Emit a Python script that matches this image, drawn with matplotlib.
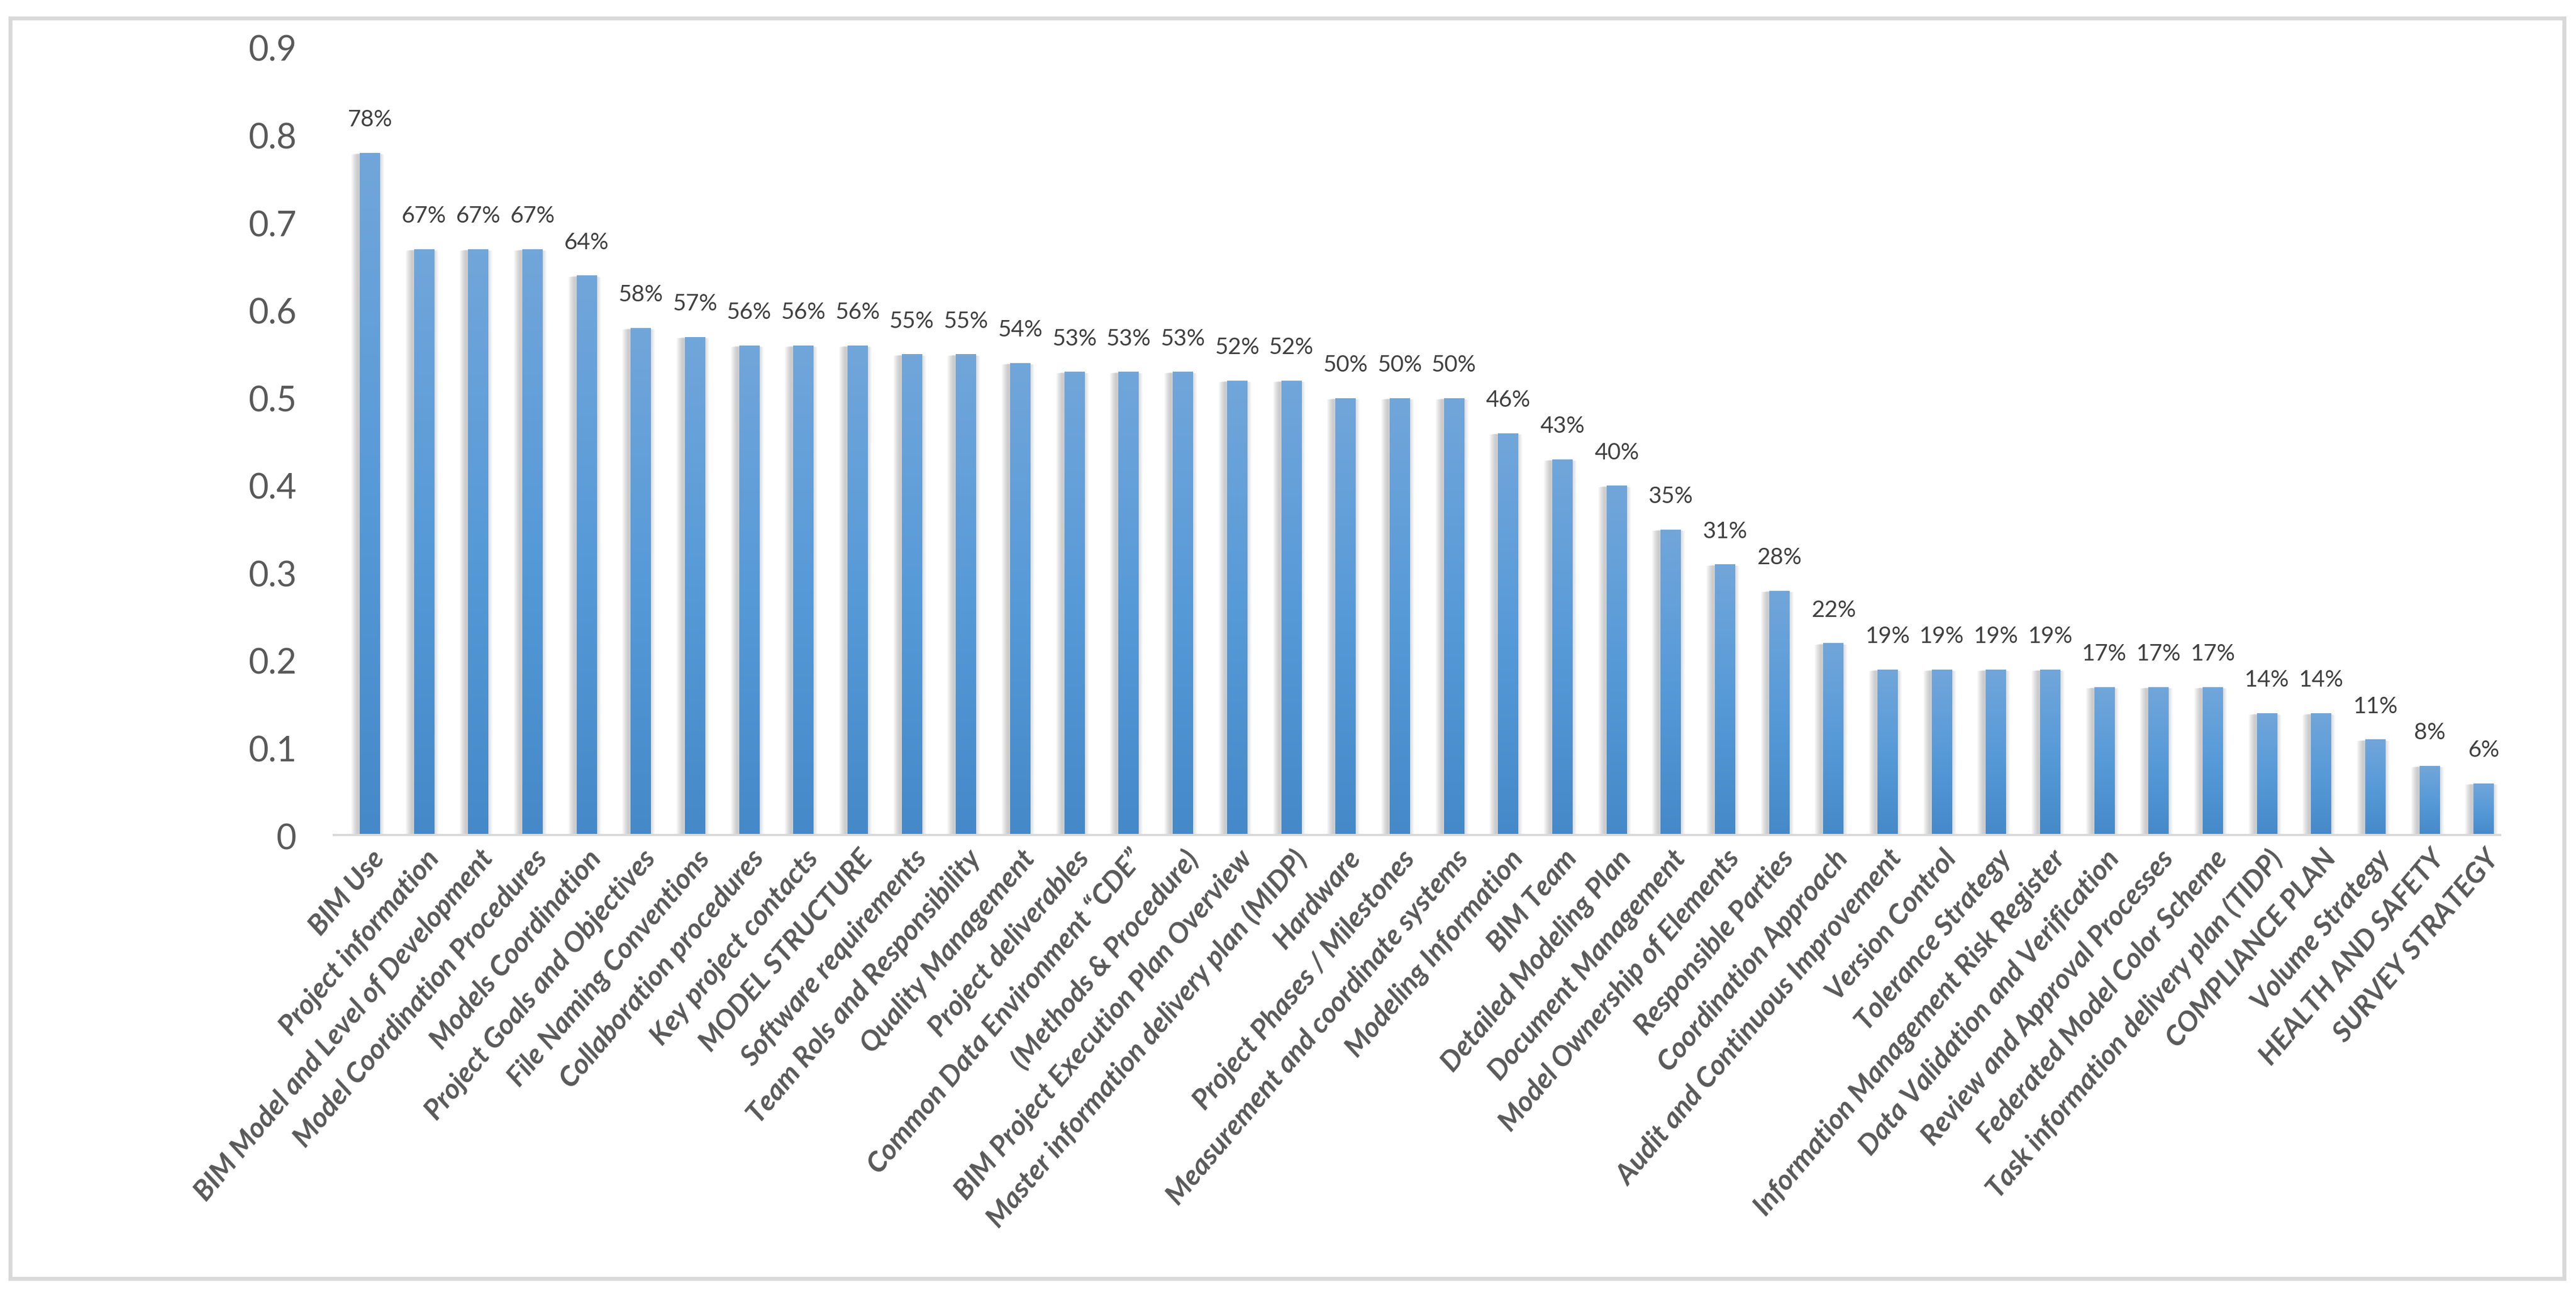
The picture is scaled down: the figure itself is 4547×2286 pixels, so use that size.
import numpy as np
import matplotlib.pyplot as plt
from matplotlib.patches import Rectangle
from matplotlib.colors import LinearSegmentedColormap

plt.rcParams['font.family'] = ['Lato', 'DejaVu Sans']

categories = [
    'BIM Use', 'Project information', 'BIM Model and Level of Development',
    'Model Coordination Procedures', 'Models Coordination', 'Project Goals and Objectives',
    'File Naming Conventions', 'Collaboration procedures', 'Key project contacts',
    'MODEL STRUCTURE', 'Software requirements', 'Team Rols and Responsibility',
    'Quality Management', 'Project deliverables', 'Common Data Environment \u201cCDE\u201d',
    '(Methods & Procedure)', 'BIM Project Execution Plan Overview',
    'Master information delivery plan (MIDP)', 'Hardware', 'Project Phases / Milestones',
    'Measurement and coordinate systems', 'Modeling Information', 'BIM Team',
    'Detailed Modeling Plan', 'Document Management', 'Model Ownership of Elements',
    'Responsible Parties', 'Coordination Approach', 'Audit and Continuous Improvement',
    'Version Control', 'Tolerance Strategy', 'Information Management Risk Register',
    'Data Validation and Verification', 'Review and Approval Processes',
    'Federated Model Color Scheme', 'Task information delivery plan (TIDP)',
    'COMPLIANCE PLAN', 'Volume Strategy', 'HEALTH AND SAFETY', 'SURVEY STRATEGY',
]

values = [0.78, 0.67, 0.67, 0.67, 0.64, 0.58, 0.57, 0.56, 0.56, 0.56,
          0.55, 0.55, 0.54, 0.53, 0.53, 0.53, 0.52, 0.52, 0.50, 0.50,
          0.50, 0.46, 0.43, 0.40, 0.35, 0.31, 0.28, 0.22, 0.19, 0.19,
          0.19, 0.19, 0.17, 0.17, 0.17, 0.14, 0.14, 0.11, 0.08, 0.06]

pct_labels = ['78%', '67%', '67%', '67%', '64%', '58%', '57%', '56%', '56%', '56%',
              '55%', '55%', '54%', '53%', '53%', '53%', '52%', '52%', '50%', '50%',
              '50%', '46%', '43%', '40%', '35%', '31%', '28%', '22%', '19%', '19%',
              '19%', '19%', '17%', '17%', '17%', '14%', '14%', '11%', '8%', '6%']

y_ticks = [0, 0.1, 0.2, 0.3, 0.4, 0.5, 0.6, 0.7, 0.8, 0.9]
y_tick_labels = ['0', '0.1', '0.2', '0.3', '0.4', '0.5', '0.6', '0.7', '0.8', '0.9']

W, H = 4547, 2286
fig = plt.figure(figsize=(W / 100, H / 100), dpi=100)
ax = fig.add_axes([587 / W, (H - 1476) / H, (4415 - 587) / W, (1476 - 85) / H])

x = np.arange(len(values))
bar_w = 0.376
xlim = (-0.69, 39.32)
ylim = (0, 0.9)
px_x = (xlim[1] - xlim[0]) / (4415 - 587)   # data units per pixel
px_y = (ylim[1] - ylim[0]) / (1476 - 85)

# soft shadow behind the bars
for k in range(1, 12):
    ax.bar(x - 4 * px_x, np.array(values) + k * px_y * 0.6, width=bar_w + 2 * k * px_x,
           bottom=-k * px_y * 0.8, color='#6f6f6f', alpha=0.035, linewidth=0, zorder=1)

bars = ax.bar(x, values, width=bar_w, color='#5b9bd5', linewidth=0, zorder=2)

# vertical gradient fill per bar
cmap = LinearSegmentedColormap.from_list('bar', ['#4589c8', '#579ad8', '#71a6da'])
grad = np.linspace(0, 1, 256).reshape(-1, 1)
for b in bars:
    bx, bw, bh = b.get_x(), b.get_width(), b.get_height()
    ax.imshow(grad, extent=(bx, bx + bw, 0, bh), origin='lower', cmap=cmap,
              aspect='auto', zorder=3, interpolation='bilinear')

ax.axhline(0, color='#d9d9d9', lw=6.5, zorder=4)

for xi, v, lbl in zip(x, values, pct_labels):
    ax.annotate(lbl, (xi, v), xytext=(0, 34), textcoords='offset points',
                ha='center', va='baseline', fontsize=29, color='#404040')

ax.set_xlim(*xlim)
ax.set_ylim(*ylim)
ax.set_yticks(y_ticks)
ax.set_yticklabels(y_tick_labels, fontsize=44, color='#595959')
ax.set_xticks(x)
ax.set_xticklabels(categories, rotation=50, ha='right', rotation_mode='anchor',
                   fontsize=36, fontweight='bold', style='italic', color='#595959')
ax.tick_params(axis='y', length=0, pad=46)
ax.tick_params(axis='x', length=0, pad=12)
for s in ax.spines.values():
    s.set_visible(False)

# chart border
fig.add_artist(Rectangle((18 / W, (H - 2257) / H), (4526 - 18) / W, (2257 - 32) / H,
                         transform=fig.transFigure, fill=False,
                         edgecolor='#d9d9d9', lw=5))

fig.savefig('out.png', dpi=100)
